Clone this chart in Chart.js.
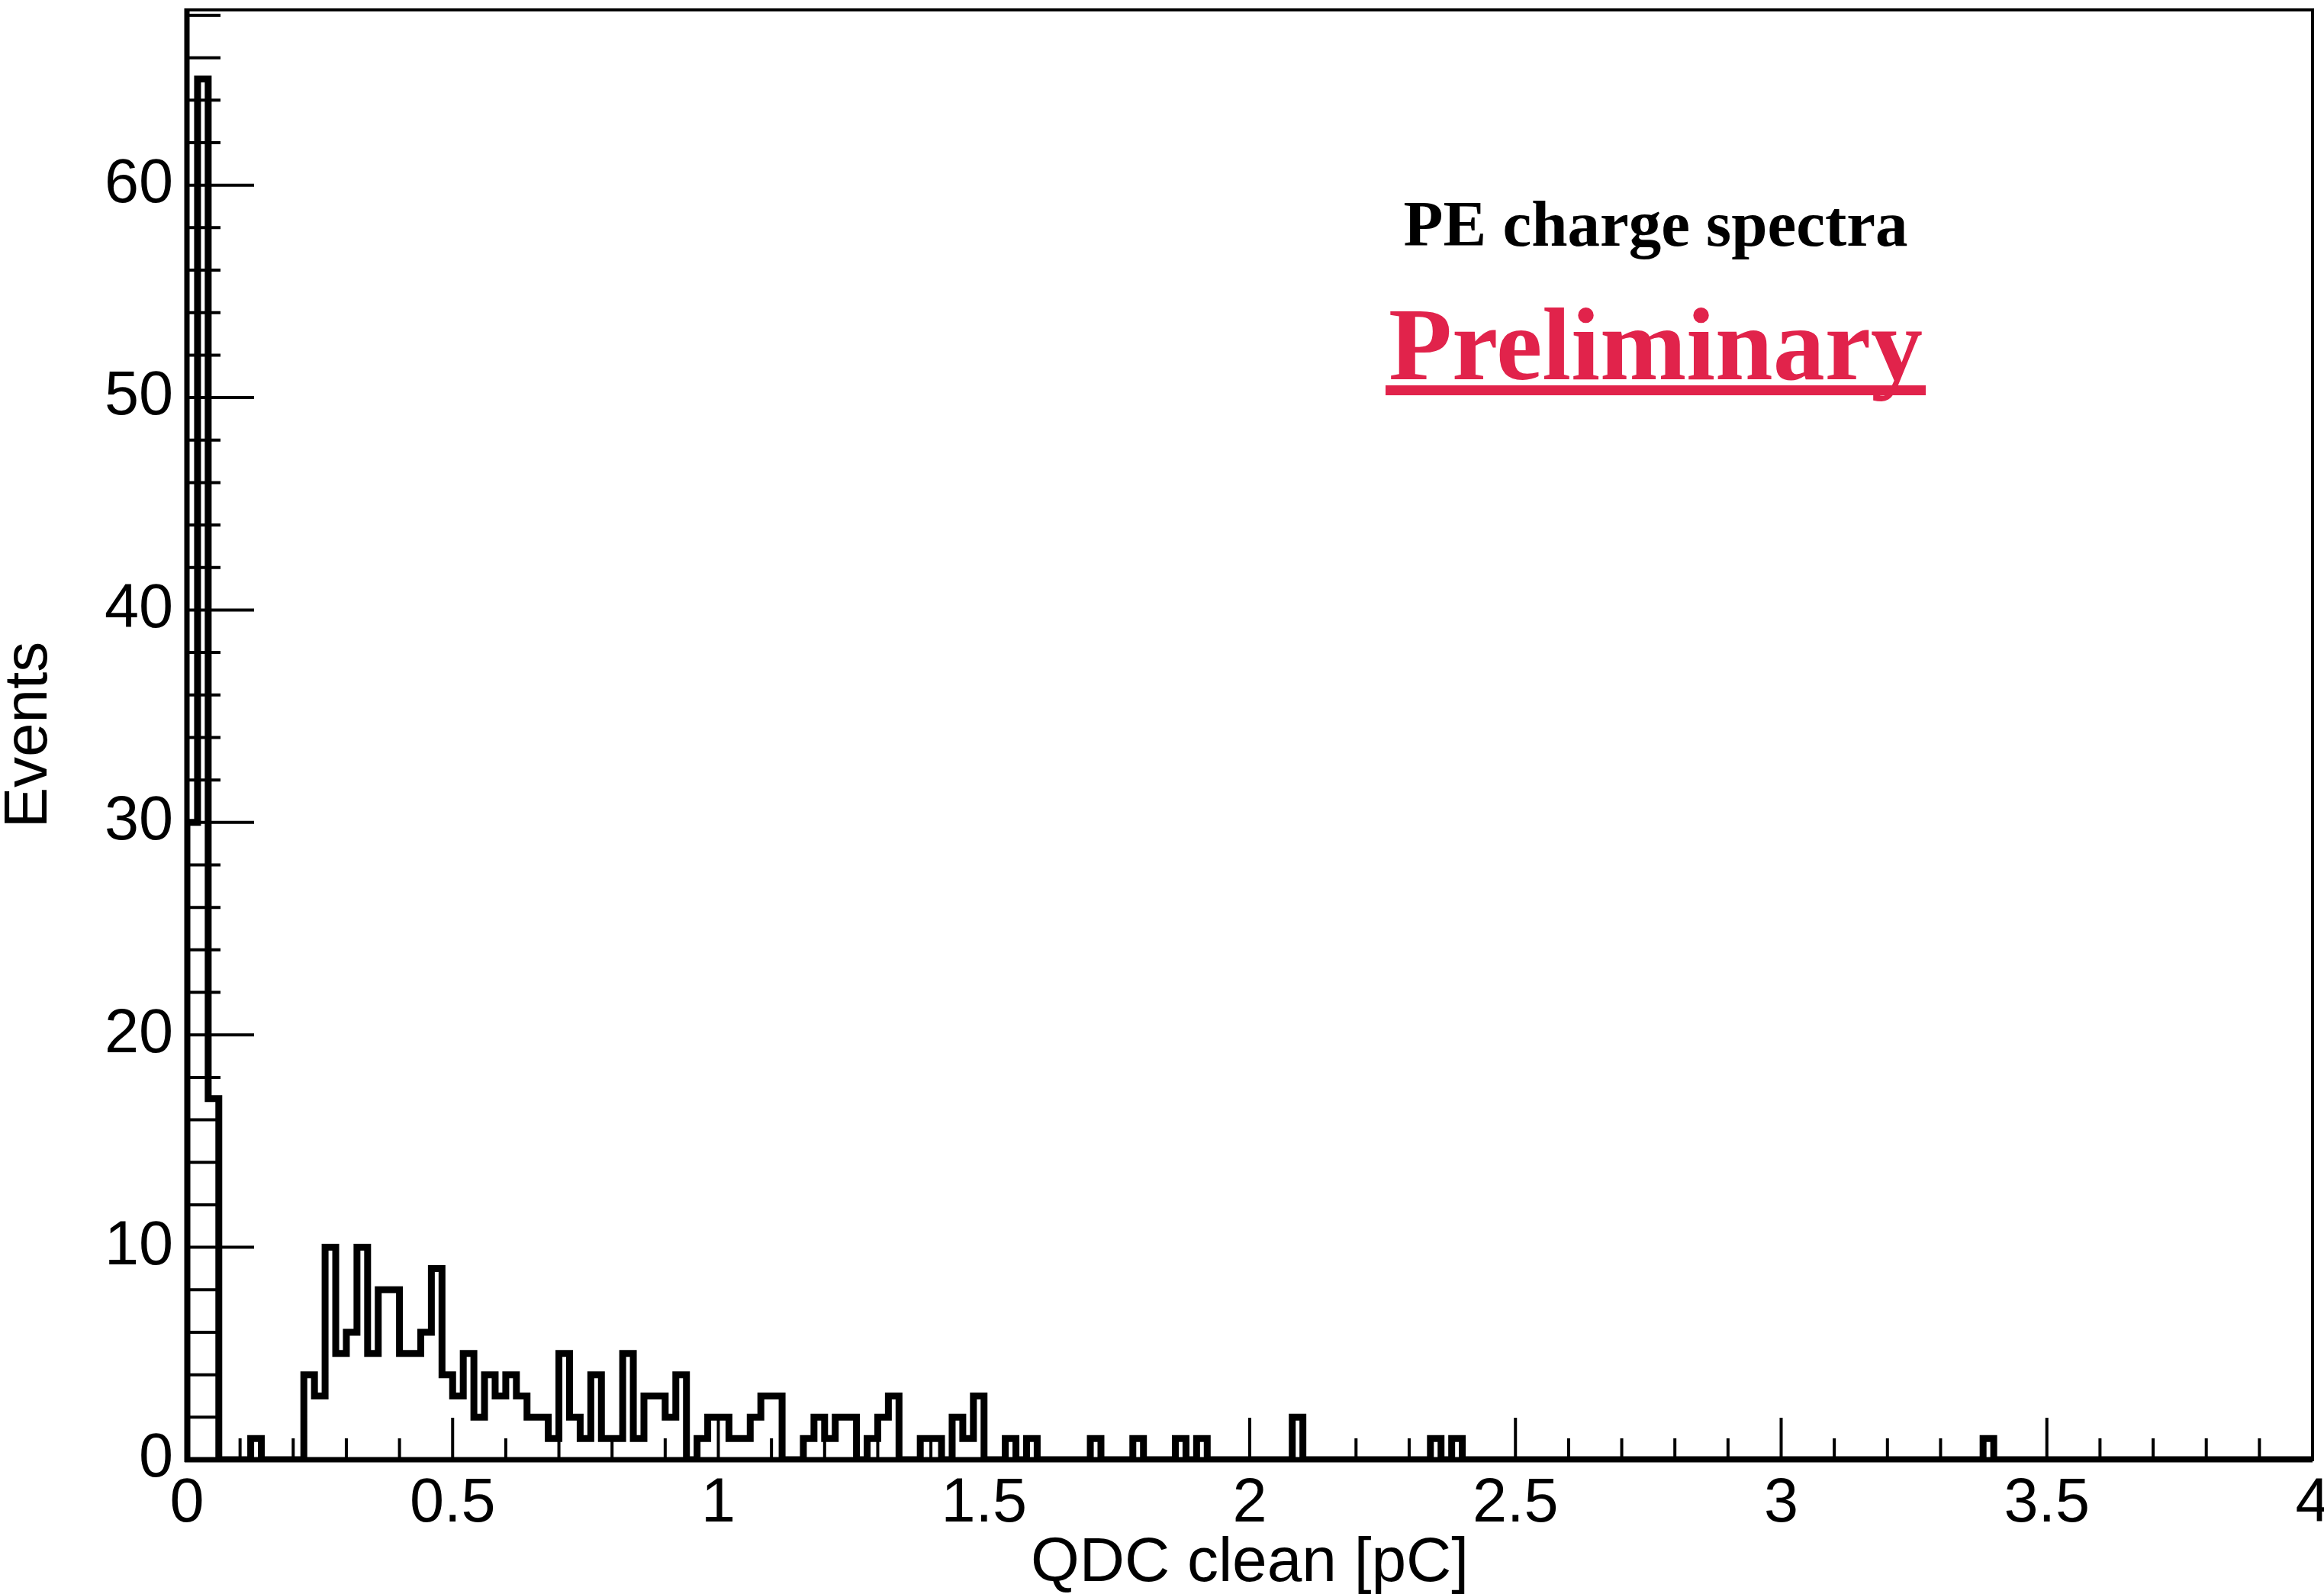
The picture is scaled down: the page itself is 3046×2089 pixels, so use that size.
<!DOCTYPE html>
<html>
<head>
<meta charset="utf-8">
<script src="https://cdn.jsdelivr.net/npm/chart.js@4.4.1/dist/chart.umd.min.js"></script>
<style>
  html, body { margin: 0; padding: 0; background: #fff; overflow: hidden; }
  #wrap { width: 3046px; height: 2089px; position: relative; }
</style>
</head>
<body>
<div id="wrap"><canvas id="qdcChart"></canvas></div>
<script>
// histogram: QDC clean, 200 bins of 0.02 pC between 0 and 4 pC
const X_MIN = 0;
const X_MAX = 4;
const BIN_WIDTH = 0.02;

// counts per bin (20 bins per row)
const qdcCounts = [
  30, 65, 17, 0, 0, 0, 1, 0, 0, 0, 0, 4, 3, 10, 5, 6, 10, 5, 8, 8,
  5, 5, 6, 9, 4, 3, 5, 2, 4, 3, 4, 3, 2, 2, 1, 5, 2, 1, 4, 1,
  1, 5, 1, 3, 3, 2, 4, 0, 1, 2, 2, 1, 1, 2, 3, 3, 0, 0, 1, 2,
  1, 2, 2, 0, 1, 2, 3, 0, 0, 1, 1, 0, 2, 1, 3, 0, 0, 1, 0, 1,
  0, 0, 0, 0, 0, 1, 0, 0, 0, 1, 0, 0, 0, 1, 0, 1, 0, 0, 0, 0,
  0, 0, 0, 0, 2, 0, 0, 0, 0, 0, 0, 0, 0, 0, 0, 0, 0, 1, 0, 1,
  0, 0, 0, 0, 0, 0, 0, 0, 0, 0, 0, 0, 0, 0, 0, 0, 0, 0, 0, 0,
  0, 0, 0, 0, 0, 0, 0, 0, 0, 0, 0, 0, 0, 0, 0, 0, 0, 0, 0, 0,
  0, 0, 0, 0, 0, 0, 0, 0, 0, 1, 0, 0, 0, 0, 0, 0, 0, 0, 0, 0,
  0, 0, 0, 0, 0, 0, 0, 0, 0, 0, 0, 0, 0, 0, 0, 0, 0, 0, 0, 0
];

const xTickValues = [0, 0.5, 1, 1.5, 2, 2.5, 3, 3.5, 4];
const xTickLabels = ['0', '0.5', '1', '1.5', '2', '2.5', '3', '3.5', '4'];
const yTickValues = [0, 10, 20, 30, 40, 50, 60];
const yTickLabels = ['0', '10', '20', '30', '40', '50', '60'];
const Y_MAX = 68.25;

const xMinorStep = 0.1;
const yMinorStep = 2;

// bin lower edges, then the outline points for a step line
const binLowEdges = qdcCounts.map((c, i) => X_MIN + i * BIN_WIDTH);
const histPoints = [{x: X_MIN, y: 0}]
    .concat(qdcCounts.map((c, i) => ({x: binLowEdges[i], y: c})))
    .concat([{x: X_MAX, y: 0}]);

const sansFont = "'Liberation Sans', Arial, Helvetica, sans-serif";
const serifFont = "'Liberation Serif', 'Times New Roman', serif";

// ROOT style frame + inward ticks
const rootFrame = {
    id: 'rootFrame',
    afterDatasetsDraw(chart) {
        const {ctx, chartArea: {left, right, top, bottom}, scales: {x, y}} = chart;
        ctx.save();
        ctx.strokeStyle = '#000';
        ctx.lineWidth = 4;
        ctx.beginPath();
        const nx = Math.round((X_MAX - X_MIN) / xMinorStep);
        for (let i = 0; i <= nx; i++) {
            const px = x.getPixelForValue(X_MIN + i * xMinorStep);
            const len = i % 5 === 0 ? 55 : 28;
            ctx.moveTo(px, bottom);
            ctx.lineTo(px, bottom - len);
        }
        for (let v = 0; v <= Y_MAX; v += yMinorStep) {
            const py = y.getPixelForValue(v);
            const len = v % 10 === 0 ? 88 : 44;
            ctx.moveTo(left, py);
            ctx.lineTo(left + len, py);
        }
        ctx.stroke();

        ctx.lineWidth = 4;
        ctx.strokeRect(left, top, right - left, bottom - top);
        ctx.lineWidth = 7;
        ctx.beginPath();
        ctx.moveTo(left, top - 2);
        ctx.lineTo(left, bottom + 3);
        ctx.moveTo(left - 3, bottom);
        ctx.lineTo(right, bottom);
        ctx.stroke();
        ctx.restore();
    }
};

const plotLabels = {
    id: 'plotLabels',
    afterDraw(chart) {
        const {ctx} = chart;
        const cx = 2170;
        ctx.save();
        ctx.textAlign = 'center';
        ctx.textBaseline = 'alphabetic';

        ctx.fillStyle = '#000';
        ctx.font = 'bold 85px ' + serifFont;
        ctx.fillText('PE charge spectra', cx, 322);

        ctx.fillStyle = '#E1234B';
        ctx.font = 'bold 136px ' + serifFont;
        ctx.fillText('Preliminary', cx, 497);
        const w = ctx.measureText('Preliminary').width;
        ctx.fillRect(cx - w / 2 - 4, 505, w + 8, 13);
        ctx.restore();
    }
};

new Chart(document.getElementById('qdcChart'), {
    type: 'line',
    data: {
        datasets: [{
            label: 'QDC clean',
            data: histPoints,
            stepped: 'before',
            borderColor: '#000',
            borderWidth: 9,
            borderJoinStyle: 'miter',
            borderCapStyle: 'butt',
            pointRadius: 0,
            fill: false,
            tension: 0
        }]
    },
    options: {
        animation: false,
        responsive: true,
        maintainAspectRatio: false,
        layout: {
            padding: {top: 13, right: 15, left: 0, bottom: 0}
        },
        plugins: {
            legend: {display: false},
            tooltip: {enabled: false},
            title: {display: false}
        },
        scales: {
            x: {
                type: 'linear',
                min: X_MIN,
                max: X_MAX,
                grid: {display: false, drawTicks: false},
                border: {display: false},
                afterBuildTicks: s => { s.ticks = xTickValues.map(v => ({value: v})); },
                ticks: {
                    autoSkip: false,
                    maxRotation: 0,
                    padding: 10,
                    color: '#000',
                    font: {family: sansFont, size: 81},
                    callback: (v, i) => xTickLabels[i]
                },
                title: {
                    display: true,
                    text: 'QDC clean [pC]',
                    color: '#000',
                    font: {family: sansFont, size: 82, lineHeight: 0.8},
                    padding: {top: 0, bottom: 7}
                },
                afterFit: s => {
                    s.height = 176;
                    s.paddingLeft = 0;
                    s.paddingRight = 0;
                }
            },
            y: {
                type: 'linear',
                min: 0,
                max: Y_MAX,
                grid: {display: false, drawTicks: false},
                border: {display: false},
                afterBuildTicks: s => { s.ticks = yTickValues.map(v => ({value: v})); },
                ticks: {
                    padding: 18,
                    color: '#000',
                    font: {family: sansFont, size: 81},
                    callback: (v, i) => yTickLabels[i]
                },
                title: {
                    display: true,
                    text: 'Events',
                    color: '#000',
                    font: {family: sansFont, size: 80, lineHeight: 0.825},
                    padding: {top: 6, bottom: 0}
                },
                afterFit: s => {
                    s.width = 245;
                    s.paddingTop = 0;
                    s.paddingBottom = 0;
                }
            }
        }
    },
    plugins: [rootFrame, plotLabels]
});
</script>
</body>
</html>
